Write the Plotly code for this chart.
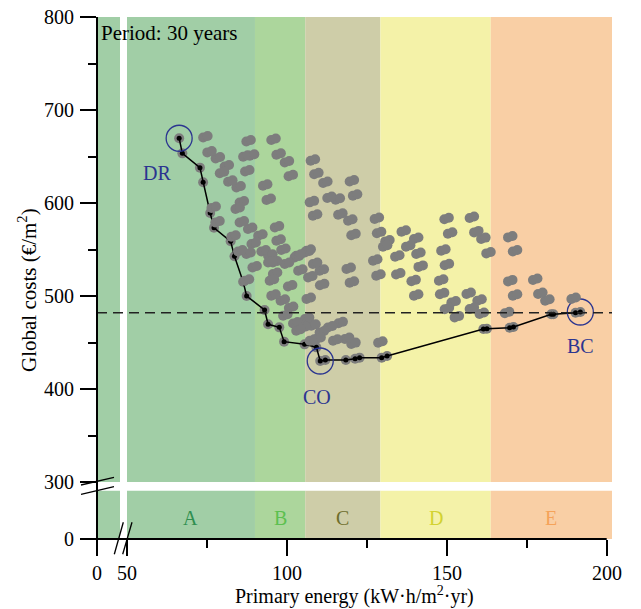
import plotly.graph_objects as go

# ---------------- data ----------------
class_names = ["A", "B", "C", "D", "E"]
class_lower = [0, 90, 105.7, 129.2, 163.7]
class_upper = [90, 105.7, 129.2, 163.7, 201.6]
class_fill = ["#a1cea6", "#acd69c", "#cecda8", "#f4f2a8", "#f9cfa5"]
class_text = ["#2f8f50", "#5cc050", "#6e6e2c", "#d2d232", "#f5a35a"]

# cost-optimal front (black line)
pareto_x = [66.3, 67.3, 72.8, 73.8, 76.0, 77.2, 82.4, 83.6, 86.3, 87.4, 93.0, 94.1,
            97.6, 99.1, 105.5, 109.2, 110.4, 112.0, 118.4, 121.3, 122.7, 129.6,
            131.3, 161.4, 162.5, 169.6, 170.8, 182.6, 183.3, 190.2, 191.7]
pareto_y = [669.6, 653.4, 638.0, 622.3, 589.2, 573.4, 558.8, 542.7, 515.4, 500.0,
            485.0, 469.6, 466.3, 450.9, 448.0, 444.8, 430.1, 431.2, 431.2, 432.6,
            433.7, 433.7, 435.5, 464.5, 464.8, 465.9, 466.7, 480.3, 480.3, 482.0, 482.8]

# all other simulated configurations (grey)
gray_x = [74.5, 88.0, 95.8, 75.8, 78.4, 87.0, 89.1, 97.4, 100.0, 81.2, 79.7, 87.6,
          101.2, 82.3, 84.9, 93.2, 94.3, 85.9, 84.6, 77.1, 78.3, 85.9, 88.5, 96.9,
          91.7, 83.3, 97.4, 89.6, 85.4, 92.7, 94.8, 98.9, 88.0, 103.1, 106.3, 96.3,
          100.0, 104.2, 89.9, 96.3, 87.5, 95.3, 101.0, 94.8, 95.8, 98.7, 101.3,
          102.6, 99.5, 105.2, 106.3,
          107.8, 113.3, 115.9, 108.8, 116.7, 119.8, 128.1, 128.8, 120.8, 106.8,
          103.6, 108.8, 110.9, 107.3, 111.0, 106.8, 108.1, 109.2, 112.0, 120.3,
          121.3, 131.4, 130.7, 127.6, 128.6, 119.3, 120.3, 108.3, 103.6, 113.5,
          116.8, 110.9, 107.8, 109.9, 115.1, 118.8, 120.8, 129.2,
          136.5, 140.4, 137.9, 134.5, 141.1, 141.8, 148.9, 150.0, 134.8, 139.6,
          140.4, 148.2, 148.5, 150.0, 149.9, 151.0, 157.8, 159.2, 161.4, 169.8,
          163.0, 171.3, 169.8, 177.6, 156.8, 171.3, 179.2, 160.2, 152.1, 181.4,
          189.6, 157.8, 153.1, 160.9, 168.8]
gray_y = [671.3, 667.0, 668.5, 655.2, 648.7, 650.5, 651.6, 652.7, 644.4, 640.1, 632.8, 634.7,
          629.6, 623.7, 617.5, 619.4, 604.0, 601.4, 594.3, 595.4, 579.9, 579.9, 572.8, 574.5,
          565.6, 564.5, 560.2, 556.7, 548.7, 548.7, 544.1, 550.2, 545.9, 542.3, 547.7, 536.9,
          535.2, 528.0, 531.5, 524.4, 517.2, 517.2, 511.1, 536.9, 501.1, 495.7, 487.9,
          471.3, 479.6, 466.5, 476.0,
          601.5, 606.1, 604.3, 587.1, 588.2, 581.7, 583.6, 568.3, 566.1, 549.5,
          544.1, 535.2, 528.0, 520.8, 512.4, 497.5, 646.3, 631.7, 622.3, 624.0,
          608.6, 559.5, 553.8, 538.7, 522.6, 529.8, 515.1, 468.8, 463.5, 467.0,
          471.5, 461.6, 452.7, 454.5, 452.7, 454.5, 449.1, 450.5,
          569.9, 562.1, 553.8, 543.0, 545.9, 532.1, 549.5, 533.9, 523.9, 516.7,
          501.1, 517.2, 502.7, 486.6, 583.3, 567.8, 584.6, 569.2, 562.0, 563.8,
          546.6, 548.7, 516.5, 518.0, 502.9, 501.1, 502.9, 495.7, 493.9, 495.7,
          497.5, 486.8, 477.8, 481.4, 482.3]

reference_cost = 482
period_label = "Period: 30 years"
point_labels = ["DR", "CO", "BC"]

x_left_range = [0, 7.2]
x_main_range = [50, 201.6]
y_top_range = [300, 800]
y_bot_range = [0, 52]

# ---------------- styling ----------------
FONT = "Liberation Serif"
FS = 20
NAVY = "#2b3590"
GRAY = "#7d7d7d"
W, H = 641, 609
ML, MR, MT, MB = 97, 29, 17, 70
PW, PH = W - ML - MR, H - MT - MB

x_left_dom = [0, 23 / PW]
x_main_dom = [30 / PW, 1]
y_top_dom = [57 / PH, 1]
y_bot_dom = [0, 48.3 / PH]

# half offsets used to render each grey configuration as a small capsule
DX, DY = 0.7, 0.8

fig = go.Figure()

fig.add_trace(go.Scatter(x=gray_x, y=gray_y, mode="markers", xaxis="x3", yaxis="y3",
                         marker=dict(size=10, color=GRAY), hoverinfo="skip", showlegend=False))
fig.add_trace(go.Scatter(x=gray_x, y=gray_y, mode="markers", xaxis="x4", yaxis="y4",
                         marker=dict(size=10, color=GRAY), hoverinfo="skip", showlegend=False))
fig.add_trace(go.Scatter(x=pareto_x, y=pareto_y, mode="markers", xaxis="x", yaxis="y",
                         marker=dict(size=10, color=GRAY), hoverinfo="skip", showlegend=False))
fig.add_trace(go.Scatter(x=pareto_x, y=pareto_y, mode="lines+markers", xaxis="x", yaxis="y",
                         line=dict(color="black", width=1.5),
                         marker=dict(size=5, color="black"), showlegend=False))

i_co = pareto_y.index(min(pareto_y))
hx = [pareto_x[0], pareto_x[i_co], pareto_x[-1]]
hy = [pareto_y[0], pareto_y[i_co], pareto_y[-1]]
fig.add_trace(go.Scatter(x=hx, y=hy, mode="markers", xaxis="x", yaxis="y",
                         marker=dict(size=26, symbol="circle-open", color=NAVY,
                                     line=dict(width=1.3, color=NAVY)),
                         showlegend=False))

shifts = [(-22, -35), (-3, -36), (0, -34)]
annotations = []
for lab, px, py, (sx, sy) in zip(point_labels, hx, hy, shifts):
    annotations.append(dict(x=px, y=py, xref="x", yref="y", text=lab, showarrow=False,
                            xanchor="center", yanchor="middle",
                            xshift=sx, yshift=sy, font=dict(family=FONT, size=20, color=NAVY)))

shapes = []
for lo, hi, col in zip(class_lower, class_upper, class_fill):
    x0, x1 = max(lo, x_main_range[0]), min(hi, x_main_range[1])
    if x1 > x0:
        for yr in ["y", "y2"]:
            shapes.append(dict(type="rect", xref="x", yref=yr + " domain", x0=x0, x1=x1,
                               y0=0, y1=1, fillcolor=col, line=dict(width=0), layer="below"))
    lx0, lx1 = max(lo, x_left_range[0]), min(hi, x_left_range[1])
    if lx1 > lx0:
        for yr in ["y", "y2"]:
            shapes.append(dict(type="rect", xref="x2", yref=yr + " domain", x0=lx0, x1=lx1,
                               y0=0, y1=1, fillcolor=col, line=dict(width=0), layer="below"))

for name, lo, hi, tc in zip(class_names, class_lower, class_upper, class_text):
    x0, x1 = max(lo, x_main_range[0]), min(hi, x_main_range[1])
    annotations.append(dict(x=(x0 + x1) / 2, y=0.44, xref="x", yref="y2 domain", text=name,
                            showarrow=False, xanchor="center", yanchor="middle",
                            font=dict(family=FONT, size=20, color=tc)))

shapes.append(dict(type="line", xref="paper", yref="y", x0=0, x1=1, y0=reference_cost,
                   y1=reference_cost, line=dict(color="#222222", width=1.3, dash="10px,6px"),
                   layer="above"))

shapes.append(dict(type="line", xref="paper", yref="paper", x0=0, x1=0, y0=0, y1=1,
                   line=dict(color="black", width=2)))
shapes.append(dict(type="line", xref="paper", yref="paper", x0=-0.002, x1=(606.7 - ML) / PW,
                   y0=0, y1=0, line=dict(color="black", width=2)))


def px_to_paper(px, py):
    return (px - ML) / PW, (MT + PH - py) / PH


for (a, b) in [((114.3, 554.3), (123.3, 522.3)), ((122.7, 554.3), (132.0, 522.3)),
               ((81, 485), (114, 477.3)), ((81, 494.3), (114, 486.7))]:
    (x0, y0), (x1, y1) = px_to_paper(*a), px_to_paper(*b)
    shapes.append(dict(type="line", xref="paper", yref="paper", x0=x0, y0=y0, x1=x1, y1=y1,
                       line=dict(color="black", width=1.3)))

annotations.append(dict(xref="paper", yref="paper", x=(27 - ML) / PW, y=(MT + PH - 290) / PH,
                        xanchor="center", yanchor="middle",
                        text="Global costs (€/m<sup>2</sup>)", textangle=-90, showarrow=False,
                        font=dict(family=FONT, size=21, color="black")))
annotations.append(dict(xref="paper", yref="paper", x=(354 - ML) / PW, y=(MT + PH - 595) / PH,
                        xanchor="center", yanchor="middle", borderpad=0,
                        text="Primary energy (kW·h/m<sup>2</sup>·yr)", showarrow=False,
                        font=dict(family=FONT, size=20, color="black")))
annotations.append(dict(xref="paper", yref="paper", x=0.004, y=1, xanchor="left", yanchor="top",
                        yshift=-2, text=period_label, showarrow=False,
                        font=dict(family=FONT, size=21, color="black")))

tickfont = dict(family=FONT, size=FS, color="black")
common = dict(showgrid=False, zeroline=False, showline=False, ticks="outside", ticklen=16,
              tickwidth=2, tickcolor="black", tickfont=tickfont)

fig.update_layout(
    width=W, height=H, margin=dict(l=ML, r=MR, t=MT, b=MB, autoexpand=False),
    paper_bgcolor="white", plot_bgcolor="white", showlegend=False,
    xaxis=dict(domain=x_main_dom, range=x_main_range, anchor="y2", tickmode="linear",
               tick0=0, dtick=50,
               minor=dict(ticks="outside", ticklen=8, tickwidth=2, tickcolor="black",
                          dtick=25, tick0=0, showgrid=False), **common),
    xaxis2=dict(domain=x_left_dom, range=x_left_range, anchor="y2", tickmode="array",
                tickvals=[0], **common),
    yaxis=dict(domain=y_top_dom, range=y_top_range, anchor="x2", tickmode="linear",
               tick0=0, dtick=100, ticklabelstandoff=2,
               minor=dict(ticks="outside", ticklen=8, tickwidth=2, tickcolor="black",
                          dtick=50, tick0=0, showgrid=False), **common),
    yaxis2=dict(domain=y_bot_dom, range=y_bot_range, anchor="x2", tickmode="array",
                tickvals=[0], ticklabelstandoff=2, **common),
    xaxis3=dict(overlaying="x", range=[x_main_range[0] + DX, x_main_range[1] + DX],
                visible=False, anchor="y3"),
    yaxis3=dict(overlaying="y", range=[y_top_range[0] + DY, y_top_range[1] + DY],
                visible=False, anchor="x3"),
    xaxis4=dict(overlaying="x", range=[x_main_range[0] - DX, x_main_range[1] - DX],
                visible=False, anchor="y4"),
    yaxis4=dict(overlaying="y", range=[y_top_range[0] - DY, y_top_range[1] - DY],
                visible=False, anchor="x4"),
    shapes=shapes, annotations=annotations,
)

fig.write_html("out.html", config={"displayModeBar": False, "staticPlot": True},
               post_script="document.body.style.margin='0';document.body.style.padding='0';")
